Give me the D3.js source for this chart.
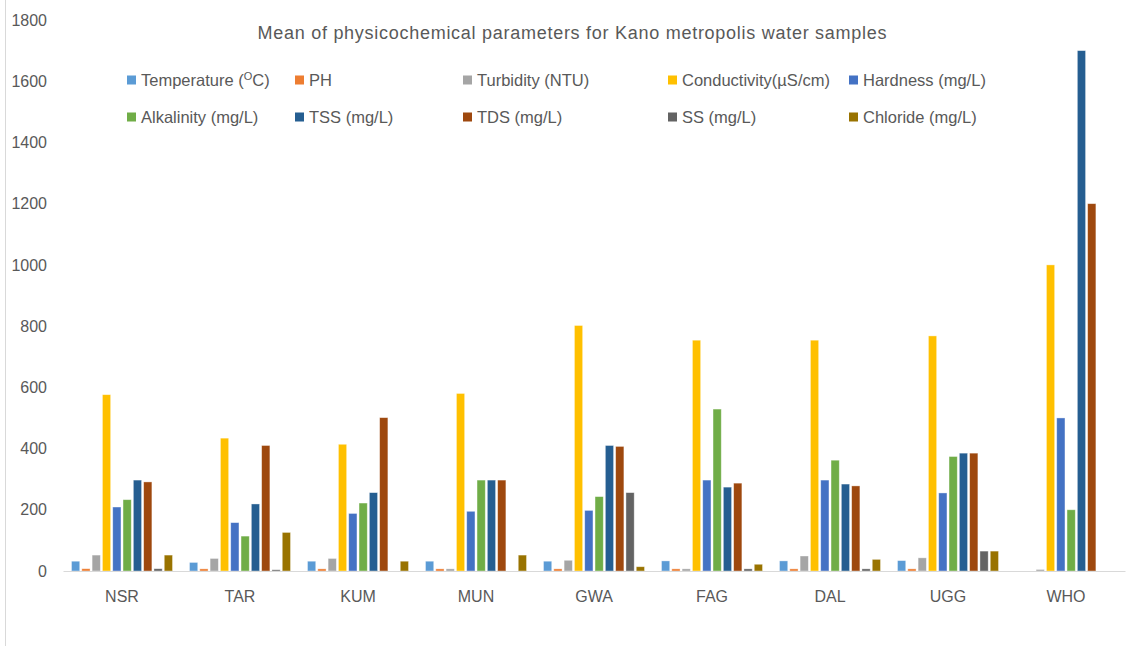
<!DOCTYPE html>
<html>
<head>
<meta charset="utf-8">
<script src="https://cdn.jsdelivr.net/npm/d3@7"></script>
<style>
  body { margin: 0; background: #fff; }
  text { font-family: "Liberation Sans", Arial, sans-serif; fill: #595959; }
</style>
</head>
<body>
<svg id="chart" width="1135" height="647"></svg>
<script>
// sites (x categories)
var sites = ["NSR", "TAR", "KUM", "MUN", "GWA", "FAG", "DAL", "UGG", "WHO"];
// parameter names, in legend order
var params = ["Temperature", "PH", "Turbidity (NTU)", "Conductivity(\u00b5S/cm)", "Hardness (mg/L)",
              "Alkalinity (mg/L)", "TSS (mg/L)", "TDS (mg/L)", "SS (mg/L)", "Chloride (mg/L)"];
// values per parameter, one per site
var temperature  = [32, 28, 32, 32, 32, 33, 33, 34, 0];
var ph           = [7.5, 7, 7, 7, 7, 7, 7, 7, 0];
var turbidity    = [52, 41, 41, 7, 35, 7, 49, 43, 5];
var conductivity = [576, 434, 414, 580, 802, 754, 754, 768, 1000];
var hardness     = [209, 158, 188, 195, 198, 297, 297, 255, 500];
var alkalinity   = [233, 114, 222, 297, 243, 529, 362, 374, 200];
var tss          = [297, 219, 256, 297, 410, 274, 284, 385, 1700];
var tds          = [291, 410, 501, 297, 407, 287, 278, 385, 1200];
var ss           = [7.5, 4, 0, 0, 256, 7, 7, 65, 0];
var chloride     = [52, 126, 32, 52, 14, 22, 38, 65, 0];
var yTicks = [0, 200, 400, 600, 800, 1000, 1200, 1400, 1600, 1800];

var series = [temperature, ph, turbidity, conductivity, hardness, alkalinity, tss, tds, ss, chloride];
var colors = ["#5B9BD5", "#ED7D31", "#A5A5A5", "#FFC000", "#4472C4",
              "#70AD47", "#255E91", "#9E480E", "#636363", "#997300"];

var svg = d3.select("svg#chart");

// thin frame line on the left
svg.append("line")
    .attr("x1", 5.5).attr("x2", 5.5).attr("y1", 0).attr("y2", 646)
    .attr("stroke", "#d9d9d9").attr("stroke-width", 1);

var x0 = d3.scaleBand().domain(sites).range([63, 1125])
    .paddingInner(0.144).paddingOuter(0.072);
var x1 = d3.scaleBand().domain(d3.range(params.length)).range([0, x0.bandwidth()])
    .paddingInner(0.2).paddingOuter(0);
var y = d3.scaleLinear().domain([0, 1800]).range([571, 20]);

// title
svg.append("text")
    .attr("x", 572).attr("y", 39)
    .attr("text-anchor", "middle")
    .style("font-size", "18px")
    .attr("textLength", 629)
    .text("Mean of physicochemical parameters for Kano metropolis water samples");

// y axis labels
var yAxis = d3.axisLeft(y).tickValues(yTicks).tickFormat(d3.format("d")).tickSize(0).tickPadding(0);
var ya = svg.append("g").attr("transform", "translate(47,0)").call(yAxis);
ya.select(".domain").remove();
ya.selectAll("text")
    .style("font-size", "16px")
    .style("font-family", "Liberation Sans, Arial, sans-serif")
    .attr("fill", "#595959");

// bars
var groups = svg.append("g").selectAll("g")
    .data(sites)
    .enter()
    .append("g")
    .attr("transform", d => "translate(" + x0(d) + ",0)");

groups.selectAll("rect")
    .data((d, i) => series.map((s, j) => ({ k: j, v: s[i] })))
    .enter()
    .append("rect")
    .filter(d => d.v > 0)
    .attr("x", d => x1(d.k))
    .attr("width", x1.bandwidth())
    .attr("y", d => y(d.v))
    .attr("height", d => y(0) - y(d.v))
    .attr("fill", d => colors[d.k])
    .attr("stroke", "#ffffff")
    .attr("stroke-opacity", 0.5)
    .attr("stroke-width", 0.75);

// baseline + category labels
var xAxis = d3.axisBottom(x0).tickSize(0).tickPadding(20);
var xa = svg.append("g").attr("transform", "translate(0,571)").call(xAxis);
xa.select(".domain").attr("stroke", "#d9d9d9");
xa.selectAll("text")
    .style("font-size", "16px")
    .style("font-family", "Liberation Sans, Arial, sans-serif")
    .attr("fill", "#595959");

// legend, 2 rows x 5 columns
var legX = [127, 295, 463, 668, 849];
var legY = [80, 117];
var legend = svg.append("g").selectAll("g")
    .data(params)
    .enter()
    .append("g")
    .attr("transform", (d, i) => "translate(" + legX[i % 5] + "," + legY[Math.floor(i / 5)] + ")");

legend.append("rect")
    .attr("x", 0).attr("y", -4.5)
    .attr("width", 9).attr("height", 9)
    .attr("fill", (d, i) => colors[i]);

legend.append("text")
    .attr("x", 14).attr("y", 6)
    .style("font-size", "16.5px")
    .each(function (d, i) {
        var t = d3.select(this);
        if (i == 0) {
            t.append("tspan").text("Temperature (");
            t.append("tspan").attr("dy", -6).style("font-size", "11px").text("O");
            t.append("tspan").attr("dy", 6).text("C)");
        } else {
            t.text(d);
        }
    });
</script>
</body>
</html>
